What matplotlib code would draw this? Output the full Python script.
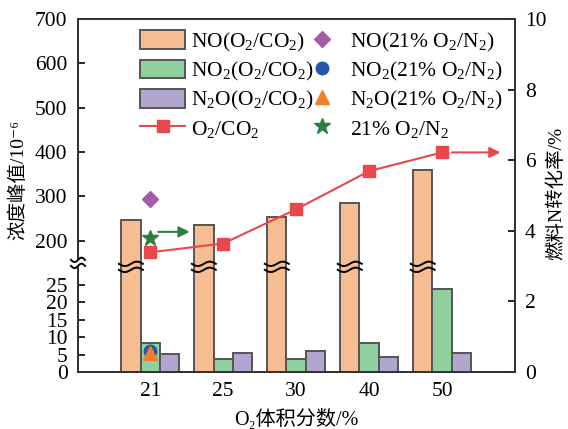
import numpy as np
import matplotlib
matplotlib.use('Agg')
import matplotlib.pyplot as plt
import matplotlib.transforms as mtransforms
from matplotlib.patches import Patch, Polygon
from matplotlib.lines import Line2D

plt.rcParams['font.family'] = ['Liberation Serif', 'Noto Sans CJK SC', 'DejaVu Serif']
plt.rcParams['mathtext.fontset'] = 'custom'
plt.rcParams['mathtext.rm'] = 'Liberation Serif'
plt.rcParams['mathtext.it'] = 'Liberation Serif:italic'
plt.rcParams['axes.unicode_minus'] = False

# ---------------- data ----------------
categories = ['21', '25', '30', '40', '50']
no_co2 = [247, 235, 253, 285, 360]
no2_co2 = [8.4, 3.6, 3.8, 8.2, 23.8]
n2o_co2 = [5.1, 5.5, 6.0, 4.4, 5.4]
conv_co2 = [3.39, 3.64, 4.61, 5.69, 6.22]
no_air = [294]
no2_air = [6.0]
n2o_air = [5.4]
conv_air = [3.81]
left_ticks = [0, 5, 10, 15, 20, 25, 200, 300, 400, 500, 600, 700]
right_ticks = [0, 2, 4, 6, 8, 10]

# colours
c_no = '#f6bd93'
c_no2 = '#90cf9e'
c_n2o = '#b1a6cd'
c_edge = '#555555'
c_red = '#e8474b'
c_dia = '#a55ba6'
c_cir = '#2356a5'
c_tri = '#f27f2b'
c_star = '#2e7e40'

# broken scale
bp_in = [0, 31.6, 152.6, 700]
bp_out = [0, 110, 110.001, 352.5]
def fwd(v):
    return np.interp(v, bp_in, bp_out)
def inv(t):
    return np.interp(t, bp_out, bp_in)

fig = plt.figure(figsize=(5.68, 4.29), dpi=100)
ax = fig.add_axes([78/568, 1-372/429, (515-78)/568, (372-19)/429])
ax.set_yscale('function', functions=(fwd, inv))
ax.set_ylim(0, 700)
ax.set_xlim(-0.99, 5.0)

x = np.arange(len(categories))
w = 0.265
ax.bar(x - w, no_co2, w, color=c_no, edgecolor=c_edge, linewidth=1.4, zorder=2)
ax.bar(x, no2_co2, w, color=c_no2, edgecolor=c_edge, linewidth=1.4, zorder=2)
ax.bar(x + w, n2o_co2, w, color=c_n2o, edgecolor=c_edge, linewidth=1.4, zorder=2)

ax.plot([0], no_air, linestyle='none', marker='D', ms=8, color=c_dia, zorder=4)
ax.plot([0], no2_air, linestyle='none', marker='o', ms=9, color=c_cir, zorder=4)
ax.plot([0], n2o_air, linestyle='none', marker='^', ms=9.5, color=c_tri, zorder=5)

ax.set_yticks(left_ticks)
ax.set_yticklabels([str(t) for t in left_ticks])
ax.minorticks_off()
ax.set_xticks(x)
ax.set_xticklabels(categories)
ax.tick_params(axis='x', length=0, labelsize=15.5, pad=7)
ax.tick_params(axis='y', direction='in', length=5, width=1.2, labelsize=15.5, pad=7.5)
for s in ax.spines.values():
    s.set_linewidth(1.4)
    s.set_color('#333333')

ax.set_xlabel('O\u2082体积分数/%', fontsize=14.5, labelpad=6)
ax.set_ylabel('浓度峰值/10\u207b\u2076', fontsize=14)
ax.yaxis.set_label_coords(-0.117, 0.545)

ax2 = ax.twinx()
ax2.set_ylim(0, 10)
ax2.set_yticks(right_ticks)
ax2.tick_params(axis='y', direction='in', length=5, width=1.2, labelsize=15.5, pad=7)
for s in ax2.spines.values():
    s.set_linewidth(1.4)
    s.set_color('#333333')
ax2.plot(x, conv_co2, color=c_red, lw=1.5, marker='s', ms=9, zorder=3)
ax2.plot([0], conv_air, linestyle='none', marker='*', ms=12, color=c_star, zorder=4)
ax2.annotate('', xy=(4.8, conv_co2[-1]), xytext=(4.0, conv_co2[-1]),
             arrowprops=dict(arrowstyle='-|>', color=c_red, lw=1.5,
                             mutation_scale=16, shrinkA=7, shrinkB=0))
ax2.annotate('', xy=(0.54, conv_air[0] + 0.16), xytext=(0.11, conv_air[0] + 0.16),
             arrowprops=dict(arrowstyle='-|>', color=c_star, lw=1.5,
                             mutation_scale=16, shrinkA=0, shrinkB=0))
ax2.set_ylabel('燃料N转化率/%', fontsize=14)
ax2.yaxis.set_label_coords(1.072, 0.507)

# break marks
def wave(xd, yd, width_px, gap_px, amp_px, fill=None, lw=1.4):
    trans = fig.dpi_scale_trans + mtransforms.ScaledTranslation(xd, yd, ax.transData)
    xs = np.linspace(-width_px/2, width_px/2, 40)
    ys = amp_px*np.sin(2*np.pi*xs/width_px)
    xi = xs/100.0
    y1 = (ys + gap_px/2)/100.0
    y2 = (ys - gap_px/2)/100.0
    if fill is not None:
        poly = Polygon(np.column_stack([np.r_[xi, xi[::-1]], np.r_[y1, y2[::-1]]]),
                       closed=True, facecolor=fill, edgecolor='none',
                       transform=trans, clip_on=False, zorder=6)
        fig.add_artist(poly)
    for yy in (y1, y2):
        fig.add_artist(Line2D(xi, yy, color='black', lw=lw, transform=trans,
                              clip_on=False, zorder=7))

for xi_ in x:
    wave(xi_ - w, 30.17, 24, 6, 2.2)
wave(-0.99, 31.3, 14, 6, 2.2, fill='white')

handles = [
    Patch(facecolor=c_no, edgecolor=c_edge, linewidth=1.4),
    Patch(facecolor=c_no2, edgecolor=c_edge, linewidth=1.4),
    Patch(facecolor=c_n2o, edgecolor=c_edge, linewidth=1.4),
    Line2D([], [], color=c_red, lw=1.5, marker='s', ms=9),
    Line2D([], [], linestyle='none', marker='D', ms=8, color=c_dia),
    Line2D([], [], linestyle='none', marker='o', ms=9, color=c_cir),
    Line2D([], [], linestyle='none', marker='^', ms=9.5, color=c_tri),
    Line2D([], [], linestyle='none', marker='*', ms=12, color=c_star),
]
labels = ['NO(O$_2$/CO$_2$)', 'NO$_2$(O$_2$/CO$_2$)', 'N$_2$O(O$_2$/CO$_2$)', 'O$_2$/CO$_2$',
          'NO(21% O$_2$/N$_2$)', 'NO$_2$(21% O$_2$/N$_2$)', 'N$_2$O(21% O$_2$/N$_2$)', '21% O$_2$/N$_2$']
leg = ax2.legend(handles, labels, ncol=2, loc='upper left', bbox_to_anchor=(0.142, 0.968),
                 frameon=False, fontsize=15.5, handlelength=2.1, handleheight=0.98,
                 labelspacing=0.27, columnspacing=-0.65, handletextpad=0.25, borderaxespad=0,
                 borderpad=0)

fig.savefig('out.png', dpi=100)
